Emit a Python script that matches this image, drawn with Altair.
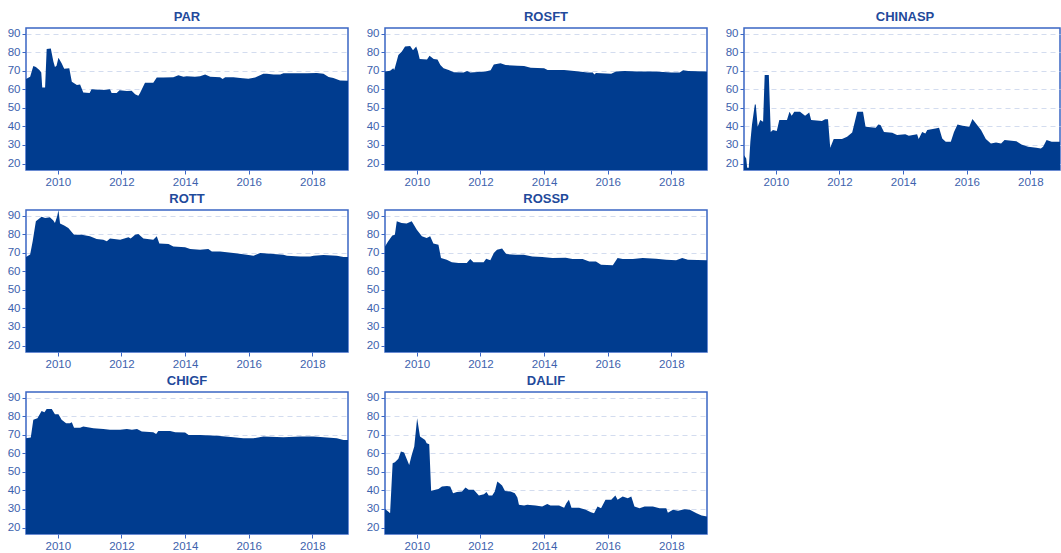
import altair as alt
import pandas as pd

FILL = "#003c8f"
FRAME = "#3a66c4"
LABEL = "#3d62ad"
TITLE = "#1f4a9b"
GRID = "#d3dcef"

panel_names = ["PAR", "ROSFT", "CHINASP", "ROTT", "ROSSP", "CHIGF", "DALIF"]
x_ticks = [2010, 2012, 2014, 2016, 2018]
y_ticks = [20, 30, 40, 50, 60, 70, 80, 90]

par_t = [2009.0, 2009.13, 2009.23, 2009.31, 2009.42, 2009.48, 2009.51, 2009.6, 2009.65, 2009.78, 2009.86, 2009.91, 2009.96, 2010.02, 2010.12, 2010.2, 2010.36, 2010.44, 2010.6, 2010.7, 2010.8, 2011.0, 2011.06, 2011.43, 2011.64, 2011.69, 2011.85, 2011.94, 2012.17, 2012.32, 2012.43, 2012.53, 2012.58, 2012.74, 2013.0, 2013.11, 2013.32, 2013.63, 2013.79, 2013.95, 2014.05, 2014.31, 2014.47, 2014.63, 2014.79, 2015.1, 2015.18, 2015.26, 2015.52, 2015.73, 2015.99, 2016.2, 2016.46, 2016.57, 2016.78, 2016.99, 2017.09, 2017.41, 2017.83, 2018.14, 2018.35, 2018.51, 2018.66, 2018.87, 2019.14]
par_v = [65.5, 66.8, 72.5, 72.0, 70.4, 69.0, 61.0, 61.0, 81.7, 82.0, 75.0, 72.0, 72.6, 77.0, 74.0, 71.0, 71.3, 64.0, 62.3, 62.5, 58.3, 58.0, 60.0, 59.6, 60.0, 58.0, 58.0, 59.5, 59.0, 59.2, 57.3, 56.5, 57.8, 63.5, 63.5, 66.3, 66.3, 66.5, 67.5, 66.8, 67.0, 66.8, 67.0, 67.9, 66.7, 66.5, 65.5, 66.5, 66.5, 66.0, 65.7, 66.3, 68.4, 68.4, 68.0, 68.0, 68.6, 68.6, 68.6, 68.8, 68.4, 66.6, 66.0, 64.7, 64.5]

rosft_t = [2009.0, 2009.16, 2009.26, 2009.29, 2009.35, 2009.42, 2009.53, 2009.63, 2009.79, 2009.88, 2009.98, 2010.03, 2010.09, 2010.32, 2010.4, 2010.53, 2010.65, 2010.74, 2010.84, 2011.0, 2011.16, 2011.47, 2011.58, 2011.68, 2012.16, 2012.32, 2012.42, 2012.63, 2012.79, 2013.16, 2013.37, 2013.58, 2014.0, 2014.11, 2014.63, 2014.95, 2015.37, 2015.53, 2015.58, 2015.63, 2016.11, 2016.26, 2016.53, 2016.95, 2017.47, 2018.0, 2018.26, 2018.37, 2018.53, 2019.13]
rosft_v = [69.5, 70.0, 71.3, 70.4, 74.0, 78.5, 80.3, 83.0, 83.3, 81.0, 83.0, 80.6, 76.3, 76.0, 78.0, 76.3, 76.0, 73.0, 71.3, 70.4, 69.1, 69.0, 69.8, 69.0, 69.5, 70.2, 73.4, 74.0, 73.0, 72.7, 72.5, 71.6, 71.3, 70.4, 70.4, 69.8, 69.0, 69.0, 68.0, 68.8, 68.4, 69.5, 69.9, 69.5, 69.5, 69.0, 69.0, 70.2, 69.9, 69.5]

chinasp_t = [2009.0, 2009.07, 2009.1, 2009.15, 2009.2, 2009.25, 2009.34, 2009.37, 2009.43, 2009.51, 2009.6, 2009.65, 2009.78, 2009.84, 2009.91, 2010.03, 2010.11, 2010.35, 2010.43, 2010.5, 2010.58, 2010.76, 2010.92, 2011.05, 2011.11, 2011.45, 2011.55, 2011.64, 2011.71, 2011.82, 2012.08, 2012.24, 2012.4, 2012.56, 2012.74, 2012.82, 2013.14, 2013.22, 2013.29, 2013.4, 2013.66, 2013.81, 2014.07, 2014.18, 2014.44, 2014.49, 2014.6, 2014.7, 2014.76, 2015.02, 2015.13, 2015.23, 2015.34, 2015.5, 2015.6, 2015.71, 2015.87, 2016.08, 2016.18, 2016.29, 2016.45, 2016.6, 2016.76, 2016.92, 2017.08, 2017.19, 2017.56, 2017.72, 2017.93, 2018.19, 2018.33, 2018.4, 2018.51, 2018.67, 2018.93, 2019.12]
chinasp_v = [24.5, 22.7, 17.7, 17.7, 31.7, 40.7, 51.8, 51.8, 39.8, 43.4, 42.5, 67.7, 67.7, 37.0, 38.0, 37.5, 43.4, 43.4, 47.9, 45.7, 47.9, 47.9, 45.7, 47.5, 43.4, 42.9, 43.8, 43.8, 28.5, 33.2, 33.2, 34.4, 36.7, 47.9, 47.9, 39.8, 39.3, 41.0, 40.7, 37.0, 36.6, 35.3, 35.7, 35.0, 35.7, 33.2, 37.0, 36.2, 38.0, 38.9, 39.3, 33.5, 31.7, 31.7, 37.0, 41.0, 40.3, 39.8, 44.0, 41.6, 38.0, 33.2, 30.8, 31.3, 30.8, 32.6, 32.0, 30.3, 29.0, 28.5, 28.1, 29.0, 32.6, 31.7, 31.7, 31.5]

rott_t = [2009.0, 2009.13, 2009.21, 2009.31, 2009.49, 2009.6, 2009.75, 2009.86, 2009.91, 2009.98, 2010.02, 2010.07, 2010.2, 2010.33, 2010.51, 2010.75, 2011.01, 2011.22, 2011.43, 2011.54, 2011.64, 2011.96, 2012.22, 2012.29, 2012.43, 2012.53, 2012.69, 2013.0, 2013.11, 2013.19, 2013.48, 2013.63, 2014.0, 2014.16, 2014.47, 2014.73, 2014.84, 2015.1, 2015.52, 2015.94, 2016.15, 2016.36, 2016.57, 2017.09, 2017.2, 2017.62, 2017.93, 2018.04, 2018.35, 2018.77, 2018.98, 2019.14]
rott_v = [67.7, 69.0, 76.1, 87.0, 89.3, 88.7, 89.1, 87.3, 86.0, 89.6, 93.0, 85.7, 84.6, 83.3, 79.7, 79.7, 78.8, 77.4, 77.0, 76.1, 77.6, 77.0, 78.3, 77.6, 79.7, 80.1, 77.6, 77.0, 78.8, 74.9, 74.7, 73.4, 72.9, 72.0, 71.6, 72.0, 70.7, 70.6, 69.8, 68.9, 68.4, 69.8, 69.5, 68.9, 68.4, 68.0, 68.0, 68.4, 68.8, 68.4, 67.7, 67.7]

rossp_t = [2009.0, 2009.1, 2009.23, 2009.31, 2009.37, 2009.52, 2009.68, 2009.84, 2010.0, 2010.16, 2010.31, 2010.42, 2010.52, 2010.68, 2010.76, 2010.94, 2011.1, 2011.31, 2011.57, 2011.68, 2011.78, 2012.1, 2012.18, 2012.31, 2012.42, 2012.52, 2012.68, 2012.81, 2013.1, 2013.36, 2013.63, 2013.94, 2014.26, 2014.68, 2014.89, 2015.21, 2015.42, 2015.63, 2015.79, 2016.16, 2016.31, 2016.47, 2016.79, 2017.1, 2017.52, 2017.84, 2018.15, 2018.34, 2018.52, 2019.13]
rossp_v = [73.4, 76.1, 79.2, 79.7, 86.9, 86.0, 85.7, 86.9, 82.4, 78.8, 77.9, 78.8, 74.9, 74.3, 67.1, 66.2, 64.8, 64.4, 64.4, 66.6, 64.8, 64.8, 66.8, 65.9, 69.8, 71.6, 72.2, 69.3, 68.9, 68.9, 68.0, 67.7, 67.1, 67.3, 66.6, 66.6, 65.3, 65.3, 63.5, 63.2, 67.1, 66.6, 66.6, 67.1, 66.8, 66.2, 65.9, 67.1, 66.2, 65.9]

chigf_t = [2009.0, 2009.15, 2009.23, 2009.36, 2009.49, 2009.58, 2009.65, 2009.81, 2009.91, 2010.02, 2010.12, 2010.26, 2010.38, 2010.44, 2010.51, 2010.7, 2010.8, 2011.12, 2011.43, 2011.64, 2011.96, 2012.17, 2012.33, 2012.49, 2012.64, 2013.0, 2013.09, 2013.16, 2013.53, 2013.69, 2014.0, 2014.11, 2014.47, 2015.0, 2015.52, 2015.83, 2016.15, 2016.46, 2017.09, 2017.62, 2018.04, 2018.46, 2018.77, 2018.98, 2019.14]
chigf_v = [68.1, 68.5, 78.0, 78.9, 82.8, 82.1, 83.9, 83.9, 81.0, 81.0, 78.0, 76.2, 76.2, 76.7, 73.8, 73.8, 74.4, 73.5, 73.1, 72.6, 72.6, 73.1, 72.6, 73.1, 71.7, 71.3, 70.4, 72.0, 72.0, 71.3, 71.2, 69.9, 69.9, 69.4, 68.6, 68.1, 68.1, 69.0, 68.6, 69.0, 69.0, 68.5, 68.1, 67.2, 67.2]

dalif_t = [2009.0, 2009.1, 2009.16, 2009.24, 2009.31, 2009.42, 2009.5, 2009.6, 2009.68, 2009.76, 2009.84, 2009.92, 2010.01, 2010.1, 2010.26, 2010.31, 2010.39, 2010.45, 2010.58, 2010.68, 2010.79, 2010.95, 2011.05, 2011.14, 2011.26, 2011.42, 2011.53, 2011.63, 2011.79, 2011.95, 2012.11, 2012.19, 2012.26, 2012.37, 2012.45, 2012.53, 2012.6, 2012.68, 2012.77, 2012.95, 2013.08, 2013.16, 2013.21, 2013.37, 2013.47, 2013.73, 2013.94, 2014.1, 2014.2, 2014.47, 2014.63, 2014.7, 2014.78, 2014.86, 2015.1, 2015.31, 2015.47, 2015.57, 2015.68, 2015.79, 2015.93, 2016.11, 2016.24, 2016.31, 2016.47, 2016.63, 2016.74, 2016.84, 2017.0, 2017.16, 2017.42, 2017.63, 2017.84, 2017.89, 2018.05, 2018.21, 2018.42, 2018.58, 2018.79, 2018.95, 2019.13]
dalif_v = [30.0, 28.6, 27.7, 54.6, 55.2, 57.0, 60.9, 60.4, 57.0, 53.7, 59.1, 63.6, 78.9, 69.0, 67.2, 65.4, 64.9, 39.7, 40.3, 40.8, 42.1, 42.4, 42.1, 38.5, 39.1, 39.4, 41.6, 40.3, 40.3, 37.2, 37.9, 39.1, 37.2, 37.2, 39.4, 44.8, 43.9, 42.6, 39.7, 39.4, 38.5, 36.2, 32.2, 31.8, 32.2, 31.8, 31.3, 32.6, 31.8, 31.8, 30.7, 33.0, 34.9, 30.7, 30.7, 29.5, 28.2, 27.7, 31.3, 30.4, 34.9, 34.9, 37.2, 34.9, 36.7, 35.8, 36.7, 31.3, 30.4, 31.3, 31.3, 30.4, 30.4, 28.0, 29.5, 29.0, 29.9, 29.5, 27.7, 26.5, 25.9]

series = {
    "PAR": (par_t, par_v),
    "ROSFT": (rosft_t, rosft_v),
    "CHINASP": (chinasp_t, chinasp_v),
    "ROTT": (rott_t, rott_v),
    "ROSSP": (rossp_t, rossp_v),
    "CHIGF": (chigf_t, chigf_v),
    "DALIF": (dalif_t, dalif_v),
}

rows = []
for name in panel_names:
    ts, vs = series[name]
    for t, v in zip(ts, vs):
        rows.append({"series": name, "t": t, "v": v})
df = pd.DataFrame(rows)

W, H = 322, 142
X0, X1 = 2009.0, 2019.12
# the right-hand column is cut by the page edge in the reference: narrower panel, same scale
W_CUT = 316
X1_CUT = X0 + (X1 - X0) * W_CUT / W


def panel(name, width=W, x_end=X1):
    return (
        alt.Chart(df)
        .transform_filter(alt.datum.series == name)
        .mark_area(color=FILL, clip=True, interpolate="linear")
        .encode(
            x=alt.X(
                "t:Q",
                scale=alt.Scale(domain=[X0, x_end], nice=False, zero=False),
                axis=alt.Axis(values=x_ticks, format="d", title=None, grid=False),
            ),
            y=alt.Y(
                "v:Q",
                scale=alt.Scale(domain=[16.5, 93], nice=False, zero=False),
                axis=alt.Axis(values=y_ticks, title=None, grid=True),
            ),
        )
        .properties(width=width, height=H, title=alt.TitleParams(name, dx=(W - width) / 2))
    )


blank = (
    alt.Chart(pd.DataFrame({"a": [0]}))
    .mark_text(text="")
    .encode(x=alt.value(0), y=alt.value(0))
    .properties(width=W_CUT, height=H, view=alt.ViewBackground(strokeOpacity=0))
)

charts = [
    panel("PAR"),
    panel("ROSFT"),
    panel("CHINASP", W_CUT, X1_CUT),
    panel("ROTT"),
    panel("ROSSP"),
    blank,
    panel("CHIGF"),
    panel("DALIF"),
]

chart = (
    alt.concat(*charts, columns=3, spacing=alt.RowColnumber(row=40, column=37), bounds="flush")
    .properties(padding={"left": 6, "top": 9, "right": 0, "bottom": 0})
    .configure_view(stroke=FRAME, strokeWidth=1.5)
    .configure_axis(
        labelFont="Liberation Sans",
        labelFontSize=11.5,
        labelColor=LABEL,
        domain=False,
        tickColor=FRAME,
        tickSize=4,
        labelPadding=2,
        gridColor=GRID,
        gridDash=[5, 4],
        gridWidth=1,
    )
    .configure_title(
        font="Liberation Sans",
        fontSize=13,
        fontWeight="bold",
        color=TITLE,
        anchor="middle",
        offset=4,
    )
)

chart.save("out.html", embed_options={"renderer": "svg", "actions": False})
